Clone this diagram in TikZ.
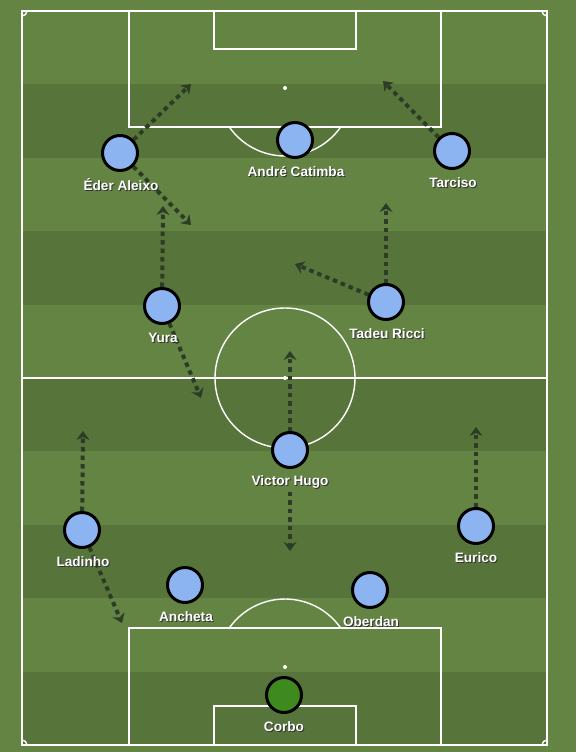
\documentclass[tikz,border=0pt]{standalone}
\usepackage{fontspec}
\newfontfamily\labfont{Liberation Sans}
\usetikzlibrary{arrows.meta}
\definecolor{grassL}{RGB}{99,132,67}
\definecolor{grassD}{RGB}{87,117,59}
\definecolor{runC}{RGB}{44,60,38}
\definecolor{blueP}{RGB}{140,180,240}
\definecolor{greenP}{RGB}{62,138,30}
\pgfdeclarelayer{pitchlayer}
\pgfdeclarelayer{runlayer}
\pgfsetlayers{pitchlayer,runlayer,main}
\tikzset{
  pline/.style={draw=white, line width=1.4pt},
  player/.style={circle, draw=black, line width=3pt, fill=blueP, minimum size=35pt, inner sep=0pt},
  keeper/.style={player, fill=greenP},
  plabel/.style={font=\labfont\bfseries\fontsize{13.6}{15}\selectfont, text=white, inner sep=0pt},
  pshadow/.style={plabel, text=black!80},
  run/.style={draw=runC, line width=4pt, dash pattern=on 4.5pt off 4pt,
    -{Stealth[length=9pt,width=13pt,inset=3pt]}},
}
\begin{document}
\begin{tikzpicture}[x=1pt,y=-1pt]
\useasboundingbox (0,0) rectangle (576,752);
\begin{pgfonlayer}{pitchlayer}
  \fill[grassL] (0,0) rectangle (576,752);
  \foreach \i in {1,3,5,7,9}
    \fill[grassD] (22,{11+73.4*\i}) rectangle (547,{11+73.4*(\i+1)});
  \draw[pline] (22,11) rectangle (547,745);
  \draw[pline] (22,378) -- (547,378);
  \draw[pline] (285,378) circle[radius=70];
  \fill[white] (285,378) circle[radius=2];
  % top
  \draw[pline] (129,11) rectangle (441,127);
  \draw[pline] (214,11) rectangle (356,49);
  \fill[white] (285,88) circle[radius=2];
  \draw[pline] (340.7,127) arc[start angle=35,end angle=145,radius=68];
  % bottom
  \draw[pline] (129,628) rectangle (441,745);
  \draw[pline] (214,706) rectangle (356,745);
  \fill[white] (285,667) circle[radius=2];
  \draw[pline] (229.3,628) arc[start angle=215,end angle=325,radius=68];
  % corners
  \draw[pline] (27,11) arc[start angle=0,end angle=90,radius=5];
  \draw[pline] (542,11) arc[start angle=180,end angle=90,radius=5];
  \draw[pline] (27,745) arc[start angle=0,end angle=-90,radius=5];
  \draw[pline] (542,745) arc[start angle=180,end angle=270,radius=5];
\end{pgfonlayer}

% players
\node[player] (eder) at (120,153) {};
\node[player] (andre) at (295,140) {};
\node[player] (tarc) at (452,151) {};
\node[player] (yura) at (162,306) {};
\node[player] (tadeu) at (386,302) {};
\node[player] (victor) at (290,450) {};
\node[player] (ladi) at (82,530) {};
\node[player] (euri) at (476,526) {};
\node[player] (anch) at (185,585) {};
\node[player] (ober) at (370,590) {};
\node[keeper] (corbo) at (284,695) {};

% labels (shadow + text)
\foreach \nm/\x/\y/\t in {ederL/121/185/{Éder Aleixo}, andreL/296/172/{André Catimba},
  tarcL/453/183/{Tarciso}, yuraL/163/338/{Yura}, tadeuL/387/334/{Tadeu Ricci},
  victorL/290/482/{Victor Hugo}, ladiL/83/562/{Ladinho}, euriL/476/558/{Eurico},
  anchL/186/617/{Ancheta}, oberL/371/622/{Oberdan}, corboL/284/727/{Corbo}}{
  \node[pshadow] (\nm S) at (\x+1,\y+1) {\t};
  \node[plabel] (\nm) at (\x,\y) {\t};
}

% runs
\coordinate (e1) at (191,84);
\coordinate (e2) at (191,225);
\coordinate (t1) at (383,81);
\coordinate (y1) at (163,206);
\coordinate (y2) at (201,398);
\coordinate (d1) at (386,203);
\coordinate (d2) at (295,264);
\coordinate (v1) at (290,351);
\coordinate (v2) at (290,551);
\coordinate (l1) at (83,431);
\coordinate (l2) at (122,623);
\coordinate (u1) at (476,427);
\begin{pgfonlayer}{runlayer}
  \draw[run] (eder) -- (e1);
  \draw[run] (eder) -- (e2);
  \draw[run] (tarc) -- (t1);
  \draw[run] (yura) -- (y1);
  \draw[run] (yura) -- (y2);
  \draw[run] (tadeu) -- (d1);
  \draw[run] (tadeu) -- (d2);
  \draw[run] (victor) -- (v1);
  \draw[run] (victorL.south) ++(0,3) -- (v2);
  \draw[run] (ladi) -- (l1);
  \draw[run] (ladi) -- (l2);
  \draw[run] (euri) -- (u1);
\end{pgfonlayer}
\end{tikzpicture}
\end{document}
